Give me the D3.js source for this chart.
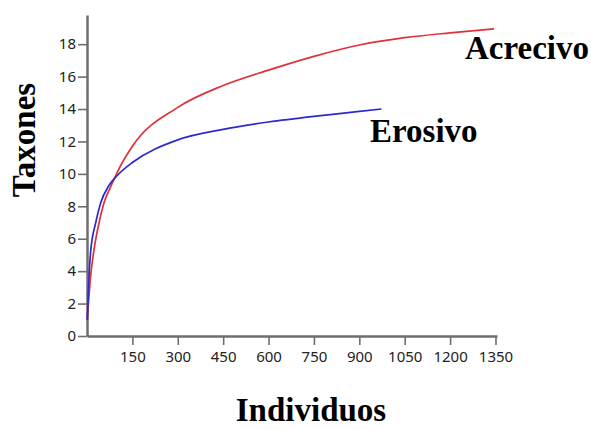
<!DOCTYPE html>
<html>
<head>
<meta charset="utf-8">
<script src="https://cdn.jsdelivr.net/npm/d3@7"></script>
<style>
  body { margin: 0; background: #fff; }
</style>
</head>
<body>
<div id="chart"></div>
<script>
// curve data
const acrecivoX = [1, 12, 23, 40, 56, 78, 100, 150, 300, 450, 600, 750, 900, 1050, 1200, 1345];
const acrecivoY = [1, 3.7, 5.3, 7.0, 8.2, 9.2, 10.1, 11.7, 14.1, 15.45, 16.4, 17.25, 17.95, 18.4, 18.7, 18.95];
const erosivoX = [1, 7, 12, 29, 45, 73, 100, 150, 300, 450, 600, 750, 900, 973];
const erosivoY = [1, 3.8, 5.2, 7.0, 8.2, 9.3, 9.9, 10.7, 12.1, 12.75, 13.2, 13.55, 13.85, 14.0];
const xTicks = [150, 300, 450, 600, 750, 900, 1050, 1200, 1350];
const yTicks = [0, 2, 4, 6, 8, 10, 12, 14, 16, 18];

let margin = {top: 15, right: 94, bottom: 93, left: 87},
    width = 591 - margin.left - margin.right,
    height = 429 - margin.top - margin.bottom;

let svg = d3.select("#chart")
  .append("svg")
    .attr("width", 591)
    .attr("height", 429)
  .append("g")
    .attr("transform", `translate(${margin.left}, ${margin.top})`);

const x = d3.scaleLinear().domain([0, 1355]).range([0, width]);
const y = d3.scaleLinear().domain([0, 19.8]).range([height, 0]);

const axisColor = "#6e6e6e";

// x axis
const gx = svg.append("g")
  .attr("transform", `translate(0, ${height})`)
  .call(d3.axisBottom(x).tickValues(xTicks).tickFormat(d3.format("d"))
    .tickSize(9).tickPadding(6).tickSizeOuter(0));

// y axis
const gy = svg.append("g")
  .call(d3.axisLeft(y).tickValues(yTicks).tickFormat(d3.format("d"))
    .tickSize(9).tickPadding(2).tickSizeOuter(0));

[gx, gy].forEach(g => {
  g.select(".domain").attr("stroke", axisColor).attr("stroke-width", 2.5);
  g.selectAll(".tick line").attr("stroke", axisColor).attr("stroke-width", 1.6);
  g.selectAll(".tick text")
    .attr("fill", "#222")
    .attr("font-family", "'Noto Sans', 'Open Sans', sans-serif")
    .attr("font-size", "15px");
});

// curves
const line = d3.line()
  .x(d => x(d[0]))
  .y(d => y(d[1]))
  .curve(d3.curveMonotoneX);

const series = [
  {name: "Acrecivo", xs: acrecivoX, ys: acrecivoY, color: "#e0303a"},
  {name: "Erosivo", xs: erosivoX, ys: erosivoY, color: "#2a2ad0"}
];

series.forEach(s => {
  svg.append("path")
    .datum(s.xs.map((v, i) => [v, s.ys[i]]))
    .attr("fill", "none")
    .attr("stroke", s.color)
    .attr("stroke-width", 1.7)
    .attr("d", line);
});

// labels
const serif = "'Liberation Serif', 'Times New Roman', serif";

svg.append("text")
  .attr("x", 589 - margin.left)
  .attr("y", 59 - margin.top)
  .attr("text-anchor", "end")
  .attr("font-family", serif)
  .attr("font-weight", "bold")
  .attr("font-size", "33px")
  .text("Acrecivo");

svg.append("text")
  .attr("x", 370 - margin.left)
  .attr("y", 142 - margin.top)
  .attr("font-family", serif)
  .attr("font-weight", "bold")
  .attr("font-size", "33px")
  .text("Erosivo");

svg.append("text")
  .attr("x", 311 - margin.left)
  .attr("y", 421 - margin.top)
  .attr("text-anchor", "middle")
  .attr("font-family", serif)
  .attr("font-weight", "bold")
  .attr("font-size", "33px")
  .text("Individuos");

svg.append("text")
  .attr("transform", `translate(${35 - margin.left}, ${140 - margin.top}) rotate(-90)`)
  .attr("text-anchor", "middle")
  .attr("font-family", serif)
  .attr("font-weight", "bold")
  .attr("font-size", "33px")
  .text("Taxones");
</script>
</body>
</html>
